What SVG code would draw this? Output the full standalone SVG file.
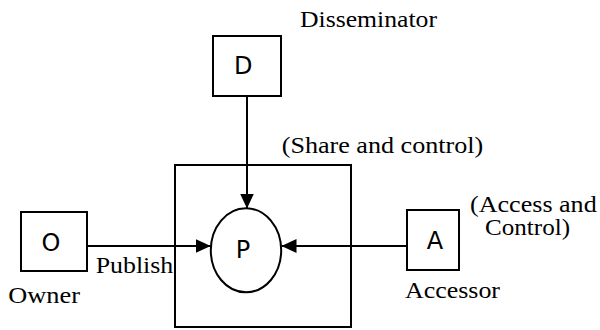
<svg xmlns="http://www.w3.org/2000/svg" width="600" height="330" viewBox="0 0 600 330">
<defs>
<style>
.box{fill:#fff;stroke:#000;stroke-width:2}
.conn{fill:none;stroke:#000;stroke-width:2}
</style>
<marker id="arr" viewBox="0 0 15 14" refX="15" refY="7" markerWidth="15" markerHeight="14" markerUnits="userSpaceOnUse" orient="auto">
<path d="M0,0 L15,7 L0,14 Z" fill="#000"/>
</marker>
</defs>
<rect x="0" y="0" width="600" height="330" fill="#fff"/>
<g id="container">
<rect class="box" x="175" y="165" width="176" height="162"/>
</g>
<g id="connectors">
<line class="conn" x1="247" y1="91" x2="247" y2="208.5" marker-end="url(#arr)"/>
<line class="conn" x1="87" y1="246" x2="210.7" y2="246" marker-end="url(#arr)"/>
<line class="conn" x1="407" y1="246" x2="281.5" y2="246" marker-end="url(#arr)"/>
</g>
<g font-family="DejaVu Sans, sans-serif" font-size="24" text-anchor="middle" fill="#000">
<g id="node-P">
<ellipse cx="246" cy="250.3" rx="35.2" ry="42" fill="#fff" stroke="#000" stroke-width="2"/>
<text x="243" y="258">P</text>
</g>
<g id="node-D">
<rect class="box" x="213" y="36" width="68" height="60"/>
<text x="243.3" y="74.3">D</text>
</g>
<g id="node-O">
<rect class="box" x="21" y="212" width="66" height="59"/>
<text x="51" y="251">O</text>
</g>
<g id="node-A">
<rect class="box" x="407" y="210" width="52" height="60"/>
<text x="435" y="249.3">A</text>
</g>
</g>
<g id="labels" font-family="Liberation Serif, serif" font-size="24" fill="#000">
<text x="300" y="27" textLength="137" lengthAdjust="spacingAndGlyphs">Disseminator</text>
<text x="8.3" y="303" textLength="71.7" lengthAdjust="spacingAndGlyphs">Owner</text>
<text x="405" y="298" textLength="95" lengthAdjust="spacingAndGlyphs">Accessor</text>
<text x="281.7" y="153" textLength="201.6" lengthAdjust="spacingAndGlyphs">(Share and control)</text>
<text x="95.7" y="272.7" textLength="77.6" lengthAdjust="spacingAndGlyphs">Publish</text>
<text x="470" y="211.7" textLength="126.7" lengthAdjust="spacingAndGlyphs">(Access and</text>
<text x="485" y="235" textLength="85" lengthAdjust="spacingAndGlyphs">Control)</text>
</g>
</svg>
